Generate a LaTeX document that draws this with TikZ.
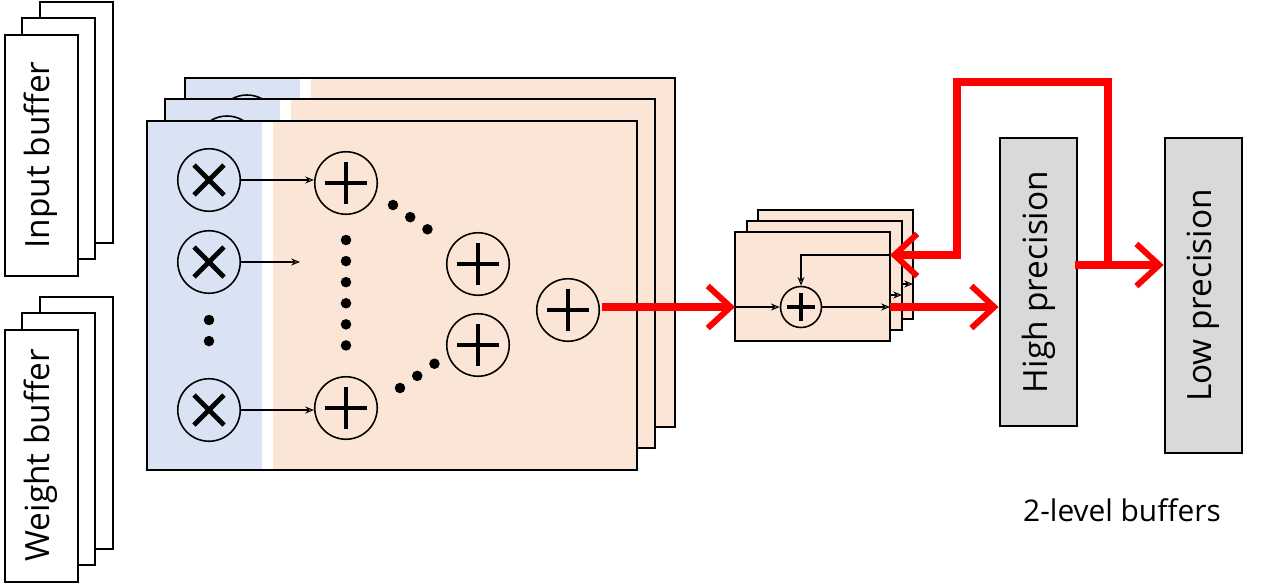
\documentclass[tikz,border=0pt]{standalone}
\usepackage{fontspec}
\setmainfont{Open Sans}
\usetikzlibrary{arrows.meta}
\definecolor{peblue}{RGB}{218,227,243}
\definecolor{peorange}{RGB}{251,229,214}
\definecolor{bufgray}{RGB}{217,217,217}
\begin{document}
\begin{tikzpicture}
  [x=0.02cm,y=-0.02cm,
   frame/.style={draw=black,line width=1.6pt},
   op/.style={circle,draw=black,line width=0.9pt,minimum size=1.25cm,inner sep=0pt},
   plusop/.style={op,path picture={
     \draw[line width=2.8pt] ([xshift=-0.42cm]path picture bounding box.center) -- ([xshift=0.42cm]path picture bounding box.center);
     \draw[line width=2.8pt] ([yshift=-0.42cm]path picture bounding box.center) -- ([yshift=0.42cm]path picture bounding box.center);}},
   timesop/.style={op,path picture={
     \draw[line width=2.8pt] ([shift={(-0.3cm,-0.3cm)}]path picture bounding box.center) -- ([shift={(0.3cm,0.3cm)}]path picture bounding box.center);
     \draw[line width=2.8pt] ([shift={(-0.3cm,0.3cm)}]path picture bounding box.center) -- ([shift={(0.3cm,-0.3cm)}]path picture bounding box.center);}},
   thin/.style={->,>={Stealth[length=5pt,width=4pt,open]},line width=0.6pt},
   thick/.style={red,line width=4.2pt,->,>={Straight Barb[length=13pt,width=24pt,line width=3.4pt]}},
   dots/.style={line width=6pt,dash pattern=on 0pt off 12pt,line cap=round},
   buftext/.style={rotate=90,font=\fontsize{19}{19}\selectfont}]
  \useasboundingbox (0,0) rectangle (1261,582);

  % input / weight buffers
  \foreach \dx/\dy in {35/-33,17/-17,0/0}{
    \draw[frame,fill=white] (5+\dx,35+\dy) rectangle (78+\dx,276+\dy);
    \draw[frame,fill=white] (5+\dx,330+\dy) rectangle (78+\dx,582+\dy);
  }
  \node[buftext] (inbuf) at (41,155) {Input buffer};
  \node[buftext] (wbuf) at (41,455) {Weight buffer};

  % PE stack
  \foreach \dx/\dy in {38/-43,18/-22}{
    \fill[peorange] (147+\dx,121+\dy) rectangle (637+\dx,470+\dy);
    \fill[white] (262+\dx,121+\dy) rectangle (273+\dx,470+\dy);
    \fill[peblue] (147+\dx,121+\dy) rectangle (262+\dx,470+\dy);
    \begin{scope}
      \clip (147+\dx,121+\dy) rectangle (637+\dx,470+\dy);
      \draw[line width=0.9pt] (209+\dx,169+\dy) circle (31);
    \end{scope}
    \draw[frame] (147+\dx,121+\dy) rectangle (637+\dx,470+\dy);
  }
  \fill[peorange] (147,121) rectangle (637,470);
  \fill[white] (262,121) rectangle (273,470);
  \fill[peblue] (147,121) rectangle (262,470);
  \draw[frame] (147,121) rectangle (637,470);
  \node[timesop] (m1) at (209,180) {};
  \node[timesop] (m2) at (209,262) {};
  \node[timesop] (m3) at (209,410) {};
  \node[plusop] (a1) at (346,183) {};
  \node[plusop] (a2) at (346,408) {};
  \node[plusop] (a3) at (478,264) {};
  \node[plusop] (a4) at (478,345) {};
  \node[plusop] (a5) at (568,310) {};
  \draw[dots] (209,320) -- (209,350);
  \draw[dots] (346,240) -- (346,350);
  \draw[dots] (393,205) -- (437,236);
  \draw[dots] (400,388) -- (444,357);
  \draw[thin] (m1) -- (a1.west|-m1);
  \draw[thin] (m2) -- (300,262);
  \draw[thin] (m3) -- (a2.west|-m3);

  % accumulator stack
  \foreach \dx/\dy in {23/-22,12/-11}{
    \draw[frame,fill=peorange] (735+\dx,232+\dy) rectangle (890+\dx,341+\dy);
  }
  \draw[frame,fill=peorange] (735,232) rectangle (890,341);
  \node[op,minimum size=0.82cm] (acc) at (801,307) {};
  \draw[line width=2pt] (787,307) -- (815,307) (801,293) -- (801,321);
  \coordinate (accin) at (735,307);
  \coordinate (accout) at (890,307);
  \coordinate (fbin) at (890,255);
  \draw[thin] (accin) -- (acc);
  \draw[thin] (acc) -- (accout);
  \draw[thin] (fbin) -- (801,255) -- (acc);
  \draw[thin] (890,295) -- (902,295);
  \draw[thin] (903,284) -- (913,284);

  % two-level buffers
  \node[draw=black,line width=1.6pt,fill=bufgray,minimum width=1.54cm,minimum height=5.76cm,inner sep=0pt] (hp) at (1038.5,282) {};
  \node[draw=black,line width=1.6pt,fill=bufgray,minimum width=1.54cm,minimum height=6.3cm,inner sep=0pt] (lp) at (1203.5,295.5) {};
  \node[buftext] at (hp) {High precision};
  \node[buftext] at (lp) {Low precision};
  \node[font=\fontsize{17}{17}\selectfont] (lbl) at (1122,510) {2-level buffers};

  % data paths
  \draw[thick] (a5.east|-a5) ++(2,-3) coordinate (peout) -- (accin);
  \draw[thick] (accout) -- (hp.west|-accout);
  \draw[thick] (1075,265) -- (lp.west|-0,265);
  \draw[thick] (1108,265) -- (1108,82) -- (957,82) -- (957,255) -- (fbin);
\end{tikzpicture}
\end{document}
